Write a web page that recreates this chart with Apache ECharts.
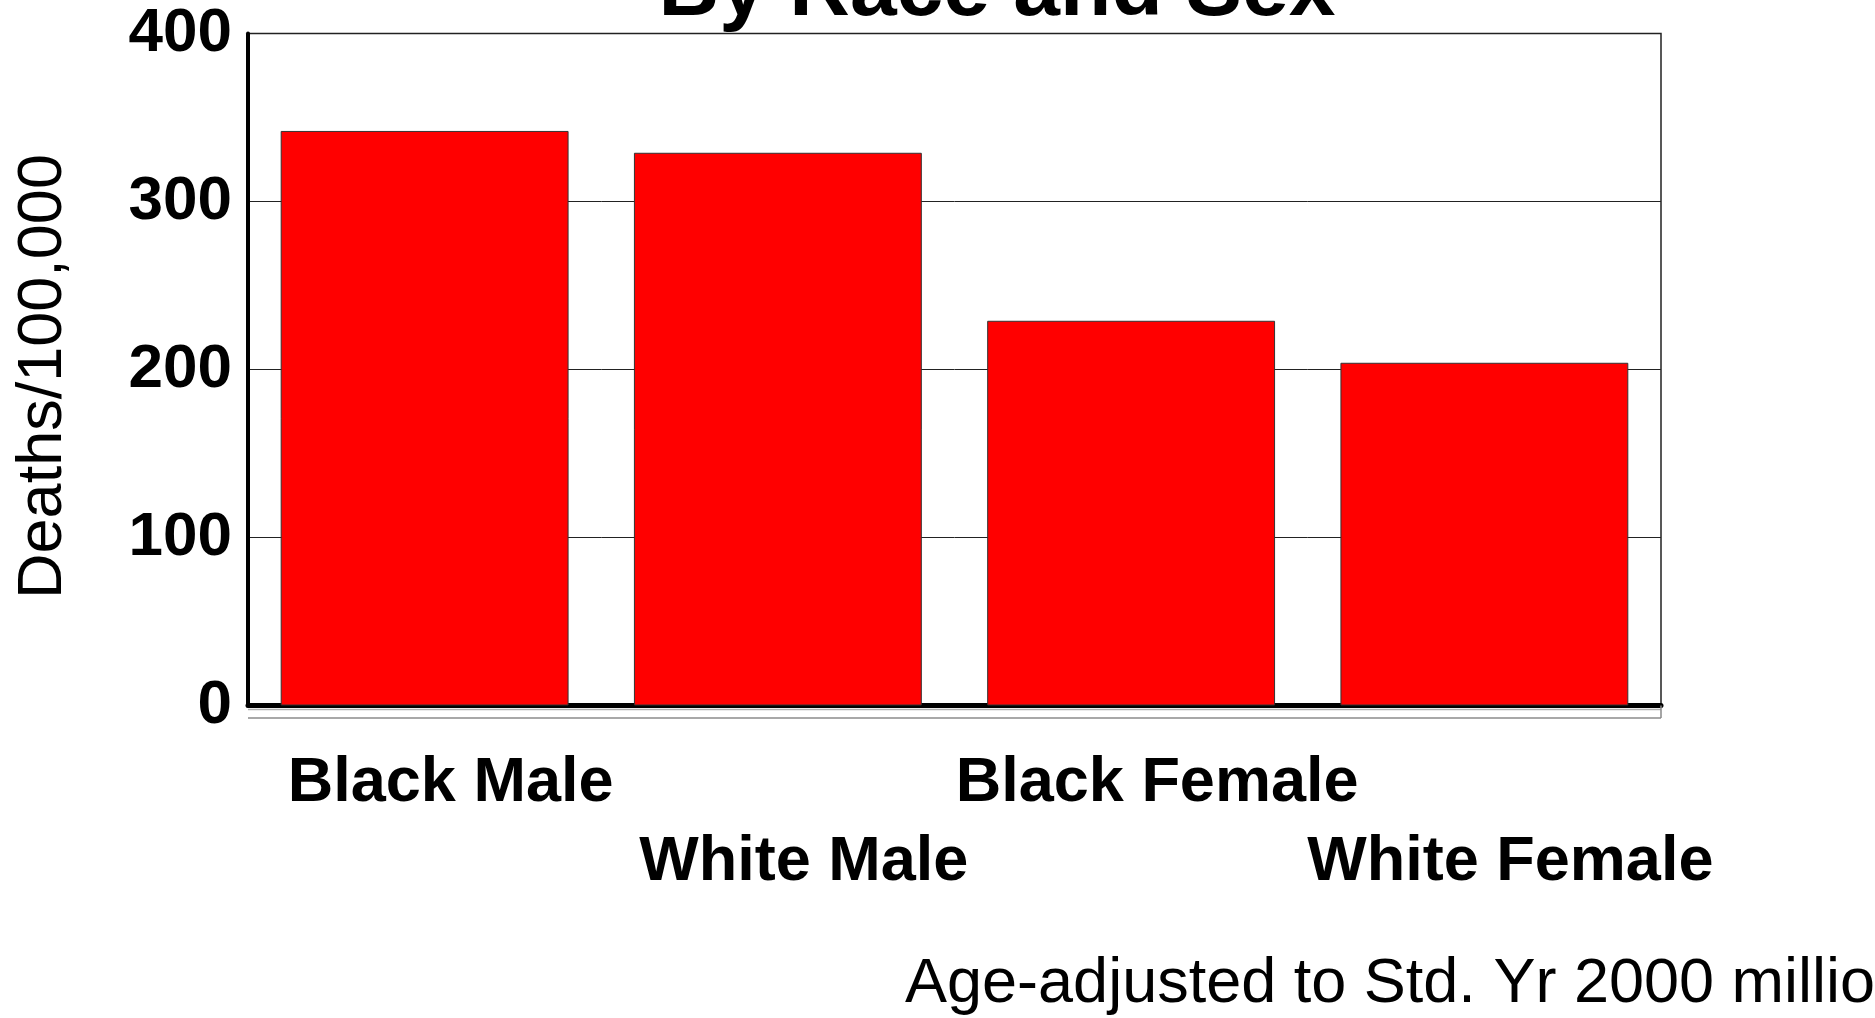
<!DOCTYPE html>
<html>
<head>
<meta charset="utf-8">
<script src="https://cdn.jsdelivr.net/npm/echarts@6/dist/echarts.min.js"></script>
<style>
  html, body { margin: 0; padding: 0; background: #fff; }
  #chart { width: 1875px; height: 1018px; }
</style>
</head>
<body>
<div id="chart"></div>
<script>
// Death rates by race and sex (per 100,000, age-adjusted)
const categories = ['Black Male', 'White Male', 'Black Female', 'White Female'];
const deathRates = [342, 329, 229, 204];
const yTicks = [0, 100, 200, 300, 400];

const titleText = 'By Race and Sex';
const footnoteText = 'Age-adjusted to Std. Yr 2000 million';
const yAxisTitle = 'Deaths/100,000';

const FONT = '"Liberation Sans", Arial, Helvetica, sans-serif';

const chart = echarts.init(document.getElementById('chart'), null, { renderer: 'canvas' });

const option = {
  backgroundColor: '#ffffff',
  animation: false,
  grid: {
    left: 248,
    right: 214,
    top: 33.5,
    bottom: 312.5,
    show: true,
    borderColor: '#222',
    borderWidth: 1.5,
    backgroundColor: 'transparent',
    containLabel: false,
    outerBoundsMode: 'none'
  },
  xAxis: {
    type: 'category',
    data: categories,
    axisTick: { show: false },
    axisLine: { show: true, lineStyle: { color: '#000', width: 5, cap: 'round' } },
    axisLabel: {
      interval: 0,
      margin: 39,
      color: '#000',
      fontFamily: FONT,
      fontWeight: 'bold',
      fontSize: 63,
      lineHeight: 79,
      padding: [0, 0, 0, 52],
      formatter: function (value, index) {
        return index % 2 === 1 ? '\n' + value : value;
      }
    }
  },
  yAxis: {
    type: 'value',
    min: yTicks[0],
    max: yTicks[yTicks.length - 1],
    interval: yTicks[1] - yTicks[0],
    name: yAxisTitle,
    nameLocation: 'middle',
    nameGap: 173,
    nameRotate: 90,
    nameTextStyle: {
      color: '#000',
      fontFamily: FONT,
      fontSize: 63,
      fontWeight: 'normal',
      padding: [0, 14, 0, 0]
    },
    axisLine: { show: true, lineStyle: { color: '#000', width: 4 } },
    axisTick: { show: false },
    splitLine: { show: true, lineStyle: { color: '#222', width: 1 } },
    axisLabel: {
      margin: 16,
      color: '#000',
      fontFamily: FONT,
      fontWeight: 'bold',
      fontSize: 62,
      padding: [8, 0, 0, 0]
    }
  },
  series: [{
    type: 'bar',
    data: deathRates,
    barCategoryGap: '18.5%',
    itemStyle: {
      color: '#ff0000',
      borderColor: '#333',
      borderWidth: 1
    }
  }]
};

chart.setOption(option);

// Floor outline under the plot, title and footnote
const gridRect = chart.getModel().getComponent('grid', 0).coordinateSystem.getRect();
const x0 = gridRect.x;
const x1 = gridRect.x + gridRect.width;
const yZero = gridRect.y + gridRect.height;

chart.setOption({
  graphic: [
    {
      type: 'line', silent: true, z: 1,
      shape: { x1: x0, y1: yZero + 4, x2: x1, y2: yZero + 4 },
      style: { stroke: '#b0b0b0', lineWidth: 1.5 }
    },
    {
      type: 'line', silent: true, z: 1,
      shape: { x1: x0, y1: yZero + 12.5, x2: x1, y2: yZero + 12.5 },
      style: { stroke: '#a8a8a8', lineWidth: 2 }
    },
    {
      type: 'line', silent: true, z: 1,
      shape: { x1: x1, y1: yZero, x2: x1, y2: yZero + 12.5 },
      style: { stroke: '#888', lineWidth: 1.5 }
    },
    {
      type: 'text', silent: true, z: 10,
      x: 997, y: -8,
      style: {
        text: titleText,
        fill: '#000',
        font: 'bold 84px ' + FONT,
        align: 'center',
        verticalAlign: 'middle'
      }
    },
    {
      type: 'text', silent: true, z: 10,
      x: 905, y: 985,
      style: {
        text: footnoteText,
        fill: '#000',
        font: 'normal 63px ' + FONT,
        align: 'left',
        verticalAlign: 'middle'
      }
    }
  ]
});
</script>
</body>
</html>
